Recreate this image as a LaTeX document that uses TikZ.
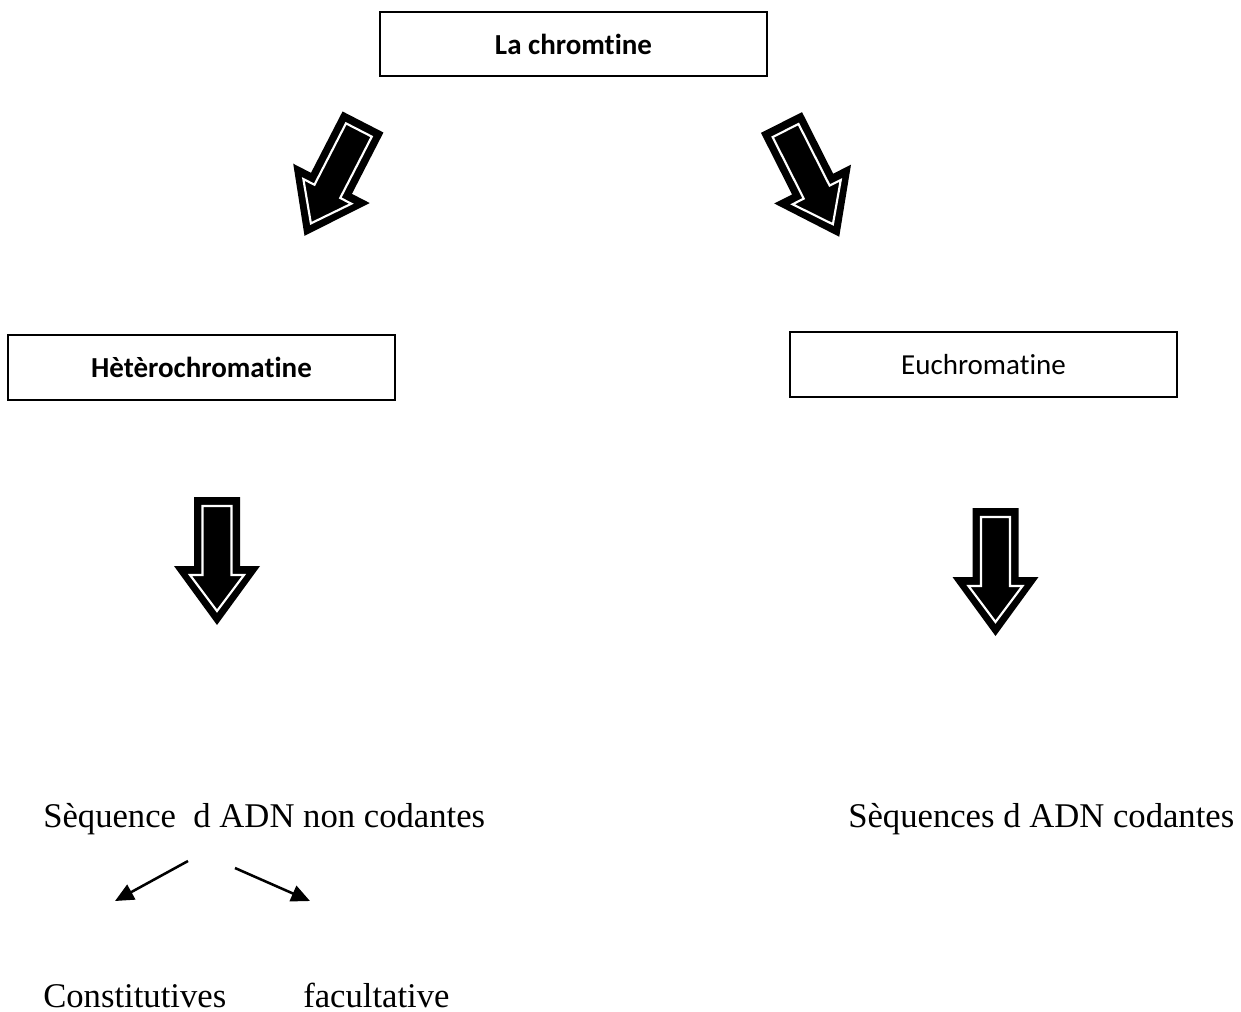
\documentclass[tikz,border=0pt]{standalone}
\usepackage{fontspec}
\setmainfont{Liberation Serif}
\newfontfamily\carlito[Ligatures=NoCommon]{Carlito}
\usetikzlibrary{arrows.meta}
\newcommand{\blockarr}[3]{%
  \begin{scope}[shift={(#1,#2)}, rotate=#3]
    \fill[black] (-23,0) -- (23,0) -- (23,69) -- (43,69) -- (0,128) -- (-43,69) -- (-23,69) -- cycle;
    \draw[white, line width=1.6pt, line join=miter] (-14.5,9) -- (14.5,9) -- (14.5,78) -- (27,78) -- (0,114) -- (-27,78) -- (-14.5,78) -- cycle;
  \end{scope}}
\begin{document}
\begin{tikzpicture}[x=0.75pt,y=-0.75pt,
  boxnode/.style={draw, line width=1.4pt, minimum width=290.25pt, minimum height=48.5pt, inner sep=0pt, font=\carlito\fontsize{21.75}{26}\selectfont},
  seqtext/.style={anchor=base west, inner sep=0pt, font=\fontsize{26}{31}\selectfont},
  smallarrow/.style={line width=1.9pt, -{Triangle[length=14pt,width=12.5pt]}}]
\useasboundingbox (0,0) rectangle (1241,1012);
% boxes
\node[boxnode] (chrom) at (573.5,44) {\bfseries La chromtine};
\node[boxnode] (hetero) at (201.5,367.5) {\bfseries Hètèrochromatine};
\node[boxnode] (eu) at (983.5,364.5) {Euchromatine};
% block arrows
\blockarr{363}{122}{-27.2}
\blockarr{781.5}{122.5}{26.8}
\blockarr{217}{497}{0}
\blockarr{995.5}{508}{0}
% texts
\node[seqtext] (seqnc) at (43,827) {Sèquence\ \ d ADN non codantes};
\node[seqtext] (seqc) at (848,827) {Sèquences d ADN codantes};
\node[seqtext] (const) at (43,1007) {Constitutives};
\node[seqtext] (facult) at (303,1007) {facultative};
% small arrows
\coordinate (a1s) at (188,861);
\coordinate (a1e) at (115,901);
\coordinate (a2s) at (235,868);
\coordinate (a2e) at (310,901);
\draw[smallarrow] (a1s) -- (a1e);
\draw[smallarrow] (a2s) -- (a2e);
\end{tikzpicture}
\end{document}
